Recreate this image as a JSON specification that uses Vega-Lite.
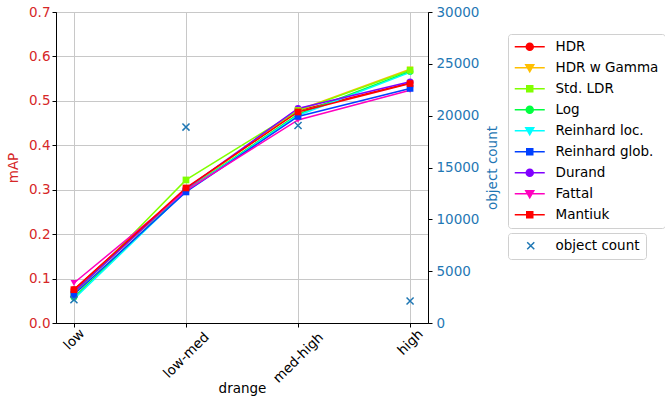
{
  "$schema": "https://vega.github.io/schema/vega-lite/v6.json",
  "width": 372,
  "height": 311,
  "autosize": "none",
  "padding": {"left": 56, "top": 12, "right": 237, "bottom": 75},
  "background": "white",
  "config": {
    "font": "DejaVu Sans",
    "view": {"stroke": "black", "strokeWidth": 1},
    "axis": {
      "labelFont": "DejaVu Sans",
      "titleFont": "DejaVu Sans",
      "labelFontSize": 13.5,
      "titleFontSize": 13.5,
      "titleFontWeight": "normal",
      "domainColor": "black",
      "tickColor": "black",
      "tickSize": 4,
      "gridColor": "#c8c8c8",
      "gridWidth": 1
    },
    "legend": {
      "labelFont": "DejaVu Sans",
      "labelFontSize": 13.5,
      "labelColor": "black"
    }
  },
  "datasets": {
    "map": [
      {"drange": "low", "method": "HDR", "mAP": 0.075},
      {"drange": "low-med", "method": "HDR", "mAP": 0.302},
      {"drange": "med-high", "method": "HDR", "mAP": 0.478},
      {"drange": "high", "method": "HDR", "mAP": 0.540},
      {"drange": "low", "method": "HDR w Gamma", "mAP": 0.070},
      {"drange": "low-med", "method": "HDR w Gamma", "mAP": 0.300},
      {"drange": "med-high", "method": "HDR w Gamma", "mAP": 0.479},
      {"drange": "high", "method": "HDR w Gamma", "mAP": 0.571},
      {"drange": "low", "method": "Std. LDR", "mAP": 0.065},
      {"drange": "low-med", "method": "Std. LDR", "mAP": 0.322},
      {"drange": "med-high", "method": "Std. LDR", "mAP": 0.478},
      {"drange": "high", "method": "Std. LDR", "mAP": 0.569},
      {"drange": "low", "method": "Log", "mAP": 0.058},
      {"drange": "low-med", "method": "Log", "mAP": 0.298},
      {"drange": "med-high", "method": "Log", "mAP": 0.470},
      {"drange": "high", "method": "Log", "mAP": 0.566},
      {"drange": "low", "method": "Reinhard loc.", "mAP": 0.054},
      {"drange": "low-med", "method": "Reinhard loc.", "mAP": 0.297},
      {"drange": "med-high", "method": "Reinhard loc.", "mAP": 0.467},
      {"drange": "high", "method": "Reinhard loc.", "mAP": 0.564},
      {"drange": "low", "method": "Reinhard glob.", "mAP": 0.064},
      {"drange": "low-med", "method": "Reinhard glob.", "mAP": 0.295},
      {"drange": "med-high", "method": "Reinhard glob.", "mAP": 0.465},
      {"drange": "high", "method": "Reinhard glob.", "mAP": 0.528},
      {"drange": "low", "method": "Durand", "mAP": 0.070},
      {"drange": "low-med", "method": "Durand", "mAP": 0.302},
      {"drange": "med-high", "method": "Durand", "mAP": 0.483},
      {"drange": "high", "method": "Durand", "mAP": 0.543},
      {"drange": "low", "method": "Fattal", "mAP": 0.090},
      {"drange": "low-med", "method": "Fattal", "mAP": 0.298},
      {"drange": "med-high", "method": "Fattal", "mAP": 0.457},
      {"drange": "high", "method": "Fattal", "mAP": 0.524},
      {"drange": "low", "method": "Mantiuk", "mAP": 0.075},
      {"drange": "low-med", "method": "Mantiuk", "mAP": 0.304},
      {"drange": "med-high", "method": "Mantiuk", "mAP": 0.475},
      {"drange": "high", "method": "Mantiuk", "mAP": 0.539}
    ],
    "count": [
      {"drange": "low", "count": 2250},
      {"drange": "low-med", "count": 18900},
      {"drange": "med-high", "count": 19050},
      {"drange": "high", "count": 2120}
    ]
  },
  "encoding": {
    "x": {
      "field": "drange",
      "type": "ordinal",
      "scale": {"type": "point", "domain": ["low", "low-med", "med-high", "high"], "padding": 0.16},
      "sort": null,
      "axis": {
        "title": "drange",
        "labelAngle": -45,
        "labelAlign": "center",
        "labelBaseline": "middle",
        "labelPadding": {
          "condition": [
            {"test": "datum.label === 'low'", "value": 12},
            {"test": "datum.label === 'high'", "value": 15},
            {"test": "datum.label === 'low-med'", "value": 28}
          ],
          "value": 30.5
        },
        "titleY": 69,
        "titleBaseline": "alphabetic",
        "grid": true
      }
    }
  },
  "layer": [
    {
      "data": {"name": "map"},
      "encoding": {
        "y": {
          "field": "mAP",
          "type": "quantitative",
          "scale": {"domain": [0, 0.7], "nice": false, "zero": true},
          "axis": {
            "title": "mAP",
            "values": [0, 0.1, 0.2, 0.3, 0.4, 0.5, 0.6, 0.7],
            "format": ".1f",
            "labelColor": "#d62728",
            "titleColor": "#d62728",
            "titlePadding": 8,
            "grid": true
          }
        },
        "color": {
          "field": "method",
          "type": "nominal",
          "scale": {
            "domain": ["HDR", "HDR w Gamma", "Std. LDR", "Log", "Reinhard loc.", "Reinhard glob.", "Durand", "Fattal", "Mantiuk"],
            "range": ["#ff0000", "#ffbf00", "#80ff00", "#00ff40", "#00ffff", "#0040ff", "#8000ff", "#ff00bf", "#ff0000"]
          },
          "legend": {
            "title": null,
            "orient": "none",
            "legendX": 452,
            "legendY": 22,
            "padding": 6,
            "symbolSize": 100,
            "symbolOffset": 9,
            "labelOffset": 19,
            "rowPadding": 6,
            "strokeColor": "#d0d0d0",
            "fillColor": "white",
            "cornerRadius": 3,
            "encode": {
              "symbols": {
                "update": {
                  "shape": {"signal": "indexof(['HDR','Log','Durand'], datum.value) >= 0 ? 'M-3,0H3M-0.7,0A0.7,0.7 0 1 0 0.7,0A0.7,0.7 0 1 0 -0.7,0Z' : (indexof(['HDR w Gamma','Reinhard loc.','Fattal'], datum.value) >= 0 ? 'M-3,0H3M-0.8,-0.6L0.8,-0.6L0,0.8Z' : 'M-3,0H3M-0.6,-0.6H0.6V0.6H-0.6Z')"},
                  "fill": {"signal": "scale('color', datum.value)"},
                  "stroke": {"signal": "scale('color', datum.value)"},
                  "strokeWidth": {"value": 1.5},
                  "opacity": {"value": 1},
                  "fillOpacity": {"value": 1},
                  "strokeOpacity": {"value": 1}
                }
              }
            }
          }
        }
      },
      "layer": [
        {"mark": {"type": "line", "strokeWidth": 1.5}},
        {
          "transform": [{"filter": {"field": "method", "oneOf": ["HDR", "Log", "Durand"]}}],
          "mark": {"type": "point", "filled": true, "size": 45, "opacity": 1, "shape": "circle"}
        },
        {
          "transform": [{"filter": {"field": "method", "oneOf": ["HDR w Gamma", "Reinhard loc.", "Fattal"]}}],
          "mark": {"type": "point", "filled": true, "size": 45, "opacity": 1, "shape": "triangle-down"}
        },
        {
          "transform": [{"filter": {"field": "method", "oneOf": ["Std. LDR", "Reinhard glob.", "Mantiuk"]}}],
          "mark": {"type": "point", "filled": true, "size": 45, "opacity": 1, "shape": "square"}
        }
      ]
    },
    {
      "data": {"name": "count"},
      "mark": {"type": "point", "filled": false, "shape": "M-1,-1L1,1M-1,1L1,-1", "size": 50, "strokeWidth": 1.5, "opacity": 1},
      "encoding": {
        "y": {
          "field": "count",
          "type": "quantitative",
          "scale": {"domain": [0, 30000], "nice": false},
          "axis": {
            "orient": "right",
            "title": "object count",
            "titleAngle": 270,
            "values": [0, 5000, 10000, 15000, 20000, 25000, 30000],
            "format": "d",
            "labelColor": "#1f77b4",
            "titleColor": "#1f77b4",
            "labelPadding": 4,
            "titlePadding": 21,
            "grid": false
          }
        },
        "stroke": {
          "datum": "object count",
          "type": "nominal",
          "scale": {"range": ["#1f77b4"]},
          "legend": {
            "title": null,
            "orient": "none",
            "legendX": 452,
            "legendY": 221,
            "padding": 6,
            "symbolSize": 50,
            "symbolOffset": 10,
            "labelOffset": 18,
            "strokeColor": "#d0d0d0",
            "fillColor": "white",
            "cornerRadius": 3,
            "encode": {
              "symbols": {
                "update": {
                  "shape": {"value": "M-1,-1L1,1M-1,1L1,-1"},
                  "stroke": {"value": "#1f77b4"},
                  "fill": {"value": "transparent"},
                  "strokeWidth": {"value": 1.5},
                  "opacity": {"value": 1}
                }
              }
            }
          }
        }
      }
    }
  ],
  "resolve": {"scale": {"y": "independent"}}
}
